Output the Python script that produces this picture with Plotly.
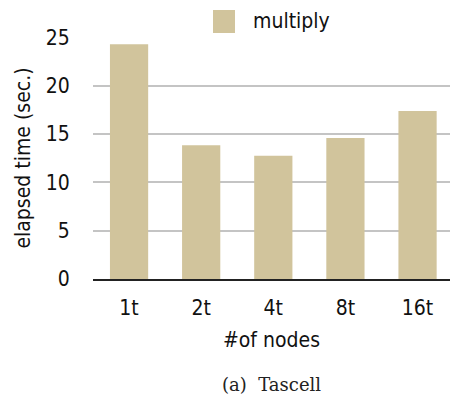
import plotly.graph_objects as go

# elapsed time per node configuration
categories = ["1t", "2t", "4t", "8t", "16t"]
elapsed = [24.3, 13.85, 12.75, 14.6, 17.4]
series_name = "multiply"
y_ticks = [0, 5, 10, 15, 20, 25]

bar_color = "#D1C49C"
font_family = "DejaVu Sans Condensed, DejaVu Sans"
fs = 21

fig = go.Figure()
fig.add_trace(go.Bar(
    x=categories, y=elapsed, name=series_name,
    marker=dict(color=bar_color, line=dict(width=0)),
    width=0.53, showlegend=False,
))

fig.update_layout(
    width=450, height=398,
    margin=dict(l=93, r=0, t=37, b=119),
    paper_bgcolor="white", plot_bgcolor="white",
    font=dict(family=font_family, size=fs, color="#111111"),
)
fig.update_xaxes(
    type="category", range=[-0.5, 4.45],
    ticks="outside", ticklen=9, tickcolor="rgba(0,0,0,0)",
    tickfont=dict(size=fs),
    showline=True, linecolor="#222222", linewidth=1.5,
    title=dict(text="#of nodes", font=dict(size=fs), standoff=13),
    showgrid=False, zeroline=False,
)
fig.update_yaxes(
    range=[0, 25.05], tickvals=y_ticks,
    ticks="outside", ticklen=18, tickcolor="rgba(0,0,0,0)",
    tickfont=dict(size=fs),
    showgrid=True, gridcolor="#c4c4c4", gridwidth=1.5,
    zeroline=False, showline=False,
    title=dict(text="elapsed time (sec.)", font=dict(size=fs), standoff=9),
)

# legend swatch and label
fig.add_shape(type="rect", xref="paper", yref="paper",
              x0=(213 - 93) / 357, x1=(235 - 93) / 357,
              y0=(279 - 33) / 242, y1=(279 - 10) / 242,
              fillcolor=bar_color, line=dict(width=0))
fig.add_annotation(text=series_name, xref="paper", yref="paper",
                   x=(251 - 93) / 357, y=(279 - 21) / 242,
                   xanchor="left", yanchor="middle", showarrow=False,
                   font=dict(size=fs, family=font_family, color="#111111"))

# caption
fig.add_annotation(text="(a)  Tascell", xref="paper", yref="paper",
                   x=(271 - 93) / 357, y=-(384 - 279) / 242,
                   xanchor="center", yanchor="middle", showarrow=False,
                   font=dict(size=18, family="DejaVu Serif", color="#222222"))

fig.write_html("out.html")
